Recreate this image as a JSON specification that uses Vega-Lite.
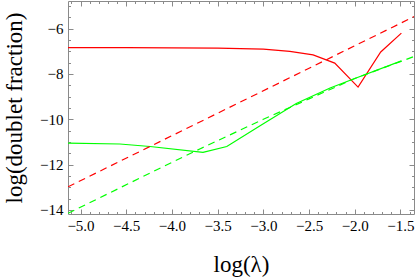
{
  "$schema": "https://vega.github.io/schema/vega-lite/v6.json",
  "width": 346,
  "height": 213,
  "autosize": "none",
  "padding": {"left": 68, "top": 1, "right": 1, "bottom": 63},
  "background": "white",
  "config": {
    "view": {"stroke": null},
    "axis": {
      "grid": false,
      "domainColor": "#8a8a8a",
      "tickColor": "#8a8a8a",
      "labelFont": "Liberation Serif",
      "labelFontSize": 15,
      "labelColor": "black",
      "titleFont": "Liberation Serif",
      "titleFontSize": 23,
      "titleFontWeight": "normal",
      "titleColor": "black",
      "labelOverlap": false,
      "labelBound": false,
      "labelFlush": false
    }
  },
  "data": {
    "values": [
      {"group": "A", "kind": "solid", "loglambda": -5.137, "logfrac": -6.84},
      {"group": "A", "kind": "solid", "loglambda": -4.5, "logfrac": -6.84},
      {"group": "A", "kind": "solid", "loglambda": -4.0, "logfrac": -6.85},
      {"group": "A", "kind": "solid", "loglambda": -3.5, "logfrac": -6.86},
      {"group": "A", "kind": "solid", "loglambda": -3.0, "logfrac": -6.9},
      {"group": "A", "kind": "solid", "loglambda": -2.71, "logfrac": -7.0},
      {"group": "A", "kind": "solid", "loglambda": -2.456, "logfrac": -7.16},
      {"group": "A", "kind": "solid", "loglambda": -2.219, "logfrac": -7.52},
      {"group": "A", "kind": "solid", "loglambda": -1.964, "logfrac": -8.58},
      {"group": "A", "kind": "solid", "loglambda": -1.716, "logfrac": -7.03},
      {"group": "A", "kind": "solid", "loglambda": -1.49, "logfrac": -6.2},
      {"group": "A", "kind": "dashed", "loglambda": -5.137, "logfrac": -12.98},
      {"group": "A", "kind": "dashed", "loglambda": -1.352, "logfrac": -5.47},
      {"group": "B", "kind": "solid", "loglambda": -5.137, "logfrac": -11.05},
      {"group": "B", "kind": "solid", "loglambda": -4.57, "logfrac": -11.09},
      {"group": "B", "kind": "solid", "loglambda": -4.24, "logfrac": -11.2},
      {"group": "B", "kind": "solid", "loglambda": -3.66, "logfrac": -11.46},
      {"group": "B", "kind": "solid", "loglambda": -3.4, "logfrac": -11.2},
      {"group": "B", "kind": "solid", "loglambda": -3.04, "logfrac": -10.3},
      {"group": "B", "kind": "solid", "loglambda": -2.64, "logfrac": -9.3},
      {"group": "B", "kind": "solid", "loglambda": -2.27, "logfrac": -8.62},
      {"group": "B", "kind": "solid", "loglambda": -2.0, "logfrac": -8.2},
      {"group": "B", "kind": "solid", "loglambda": -1.49, "logfrac": -7.42},
      {"group": "B", "kind": "dashed", "loglambda": -5.137, "logfrac": -14.15},
      {"group": "B", "kind": "dashed", "loglambda": -4.0, "logfrac": -11.9},
      {"group": "B", "kind": "dashed", "loglambda": -3.69, "logfrac": -11.3},
      {"group": "B", "kind": "dashed", "loglambda": -3.0, "logfrac": -10.0},
      {"group": "B", "kind": "dashed", "loglambda": -2.5, "logfrac": -9.1},
      {"group": "B", "kind": "dashed", "loglambda": -2.0, "logfrac": -8.2},
      {"group": "B", "kind": "dashed", "loglambda": -1.352, "logfrac": -7.23}
    ]
  },
  "layer": [
    {
      "transform": [{"filter": "datum.kind == 'solid'"}],
      "mark": {"type": "line", "strokeWidth": 1.2, "clip": true},
      "encoding": {
        "x": {
          "field": "loglambda",
          "type": "quantitative",
          "scale": {"domain": [-5.137, -1.352], "nice": false, "zero": false},
          "axis": {
            "orient": "bottom",
            "title": "log(λ)",
            "titleX": 173,
            "titleY": 57,
            "titleAlign": "center",
            "titleBaseline": "alphabetic",
            "values": [-5.1, -5, -4.9, -4.8, -4.7, -4.6, -4.5, -4.4, -4.3, -4.2, -4.1, -4, -3.9, -3.8, -3.7, -3.6, -3.5, -3.4, -3.3, -3.2, -3.1, -3, -2.9, -2.8, -2.7, -2.6, -2.5, -2.4, -2.3, -2.2, -2.1, -2, -1.9, -1.8, -1.7, -1.6, -1.5, -1.4],
            "tickSize": {"condition": {"test": "abs(datum.value*2 - round(datum.value*2)) < 0.001", "value": -5}, "value": -2.5},
            "labelExpr": "abs(datum.value*2 - round(datum.value*2)) < 0.001 ? format(datum.value, '.1f') : ''",
            "labelPadding": 9
          }
        },
        "y": {
          "field": "logfrac",
          "type": "quantitative",
          "scale": {"domain": [-14.18, -4.78], "nice": false, "zero": false},
          "axis": {
            "orient": "left",
            "title": "log(doublet fraction)",
            "titleX": -47,
            "titleY": 106.5,
            "titleAngle": -90,
            "titleAlign": "center",
            "titleBaseline": "alphabetic",
            "values": [-14, -13.5, -13, -12.5, -12, -11.5, -11, -10.5, -10, -9.5, -9, -8.5, -8, -7.5, -7, -6.5, -6, -5.5, -5],
            "tickSize": {"condition": {"test": "abs(datum.value/2 - round(datum.value/2)) < 0.001", "value": -5}, "value": -2.5},
            "labelExpr": "abs(datum.value/2 - round(datum.value/2)) < 0.001 ? format(datum.value, '.0f') : ''",
            "labelPadding": 10
          }
        },
        "color": {
          "field": "group",
          "type": "nominal",
          "scale": {"domain": ["A", "B"], "range": ["#ff0000", "#00ff00"]},
          "legend": null
        }
      }
    },
    {
      "transform": [{"filter": "datum.kind == 'dashed'"}],
      "mark": {"type": "line", "strokeWidth": 1.2, "strokeDash": [7, 5], "clip": true},
      "encoding": {
        "x": {
          "field": "loglambda",
          "type": "quantitative",
          "axis": {
            "orient": "top",
            "title": null,
            "labels": false,
            "values": [-5.1, -5, -4.9, -4.8, -4.7, -4.6, -4.5, -4.4, -4.3, -4.2, -4.1, -4, -3.9, -3.8, -3.7, -3.6, -3.5, -3.4, -3.3, -3.2, -3.1, -3, -2.9, -2.8, -2.7, -2.6, -2.5, -2.4, -2.3, -2.2, -2.1, -2, -1.9, -1.8, -1.7, -1.6, -1.5, -1.4],
            "tickSize": {"condition": {"test": "abs(datum.value*2 - round(datum.value*2)) < 0.001", "value": -5}, "value": -2.5}
          }
        },
        "y": {
          "field": "logfrac",
          "type": "quantitative",
          "axis": {
            "orient": "right",
            "title": null,
            "labels": false,
            "values": [-14, -13.5, -13, -12.5, -12, -11.5, -11, -10.5, -10, -9.5, -9, -8.5, -8, -7.5, -7, -6.5, -6, -5.5, -5],
            "tickSize": {"condition": {"test": "abs(datum.value/2 - round(datum.value/2)) < 0.001", "value": -5}, "value": -2.5}
          }
        },
        "color": {
          "field": "group",
          "type": "nominal",
          "scale": {"domain": ["A", "B"], "range": ["#ff0000", "#00ff00"]},
          "legend": null
        }
      }
    }
  ],
  "resolve": {"axis": {"x": "independent", "y": "independent"}}
}
